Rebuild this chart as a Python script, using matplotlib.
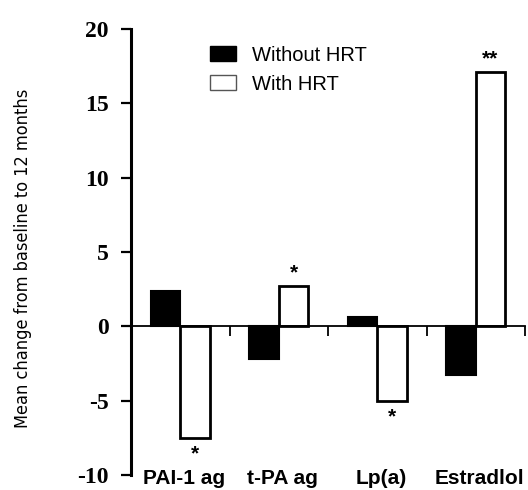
import numpy as np
import matplotlib.pyplot as plt
from matplotlib.patches import Patch
from matplotlib.transforms import blended_transform_factory

# Datos
categorias = ["PAI-1 ag", "t-PA ag", "Lp(a)", "Estradlol"]
sin_trh = [2.4, -2.2, 0.6, -3.3]
con_trh = [-7.5, 2.7, -5.0, 17.1]
signif = ["*", "*", "*", "**"]
ticks_y = [-10, -5, 0, 5, 10, 15, 20]

fig = plt.figure(figsize=(5.28, 4.9), dpi=100)
ax = fig.add_axes([131 / 528, 1 - 475 / 490, 394 / 528, 446 / 490])

x = np.arange(len(categorias))
ancho = 0.3
ax.bar(x - ancho / 2, sin_trh, ancho, color="black", edgecolor="black",
       linewidth=1.5)
ax.bar(x + ancho / 2, con_trh, ancho, color="white", edgecolor="black",
       linewidth=2.0)

ax.set_xlim(-0.5, 3.5)
ax.set_ylim(-10, 20)

# Ejes
ax.spines["top"].set_visible(False)
ax.spines["right"].set_visible(False)
ax.spines["bottom"].set_position(("data", 0))
ax.spines["bottom"].set_linewidth(1.3)
ax.spines["left"].set_linewidth(2.2)

ax.set_yticks(ticks_y)
ax.set_yticklabels([str(t) for t in ticks_y], family="Liberation Serif",
                   fontweight="bold", fontsize=17)
ax.tick_params(axis="y", direction="out", length=7, width=1.6, pad=9)

ax.set_xticks(x + 0.5)
ax.set_xticklabels([])
ax.tick_params(axis="x", direction="out", length=7, width=1.3)

# Etiquetas de categorías abajo
trans = blended_transform_factory(ax.transData, ax.transAxes)
for xi, nombre in zip(x, categorias):
    ax.text(xi + 0.04, -9 / 446, nombre, transform=trans, ha="center", va="baseline",
            family="Liberation Sans", fontweight="bold", fontsize=15)

# Asteriscos de significancia
for xi, v, s in zip(x, con_trh, signif):
    if v >= 0:
        ax.annotate(s, (xi + ancho / 2, v), xytext=(0, 3), textcoords="offset points",
                    ha="center", va="bottom", fontsize=15, fontweight="bold",
                    family="Liberation Sans")
    else:
        ax.annotate(s, (xi + ancho / 2, v), xytext=(0, -5), textcoords="offset points",
                    ha="center", va="top", fontsize=15, fontweight="bold",
                    family="Liberation Sans")

ax.text(23 / 528, 1 - 258 / 490, "Mean change from baseline to 12 months",
        transform=fig.transFigure, rotation=90, ha="center", va="center",
        family="DejaVu Sans", stretch="condensed", fontsize=13)

manijas = [Patch(facecolor="black", edgecolor="black", linewidth=1.0),
           Patch(facecolor="white", edgecolor="#555555", linewidth=1.0)]
ax.legend(handles=manijas, labels=["Without HRT", "With HRT"], loc="upper left",
          bbox_to_anchor=(0.175, 0.985), frameon=False, borderpad=0,
          handlelength=1.27, handleheight=0.78, handletextpad=0.8,
          labelspacing=0.5, prop={"family": "Liberation Sans", "size": 14.5})

fig.savefig("out.png", dpi=100, facecolor="white")
